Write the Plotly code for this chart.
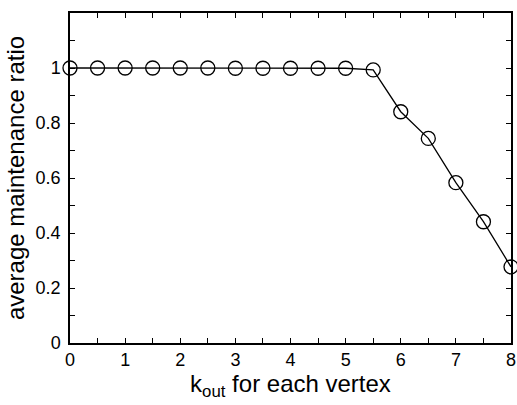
import plotly.graph_objects as go

k_out = [0, 0.5, 1, 1.5, 2, 2.5, 3, 3.5, 4, 4.5, 5, 5.5, 6, 6.5, 7, 7.5, 8]
ratio = [1.0, 1.0, 1.0, 1.0, 1.0, 1.0, 0.999, 0.999, 0.999, 0.999, 0.999, 0.993, 0.841, 0.744, 0.583, 0.441, 0.277]

x_tickvals = [0, 1, 2, 3, 4, 5, 6, 7, 8]
y_tickvals = [0, 0.2, 0.4, 0.6, 0.8, 1.0]
y_ticktext = ["0", "0.2", "0.4", "0.6", "0.8", "1"]

fig = go.Figure()
fig.add_trace(go.Scatter(
    x=k_out, y=ratio, mode="lines+markers",
    line=dict(color="black", width=1.3),
    marker=dict(symbol="circle-open", size=14, color="black", line=dict(width=1.3)),
    cliponaxis=False, showlegend=False,
))

axis_common = dict(
    showline=True, linecolor="black", linewidth=1.5, mirror="ticks",
    ticks="inside", ticklen=5, tickwidth=1, tickcolor="black",
    showgrid=False, zeroline=False, automargin=False,
    tickfont=dict(size=18, color="black"),
)

fig.update_layout(
    width=517, height=405,
    margin=dict(l=70, r=6, t=13, b=62),
    paper_bgcolor="white", plot_bgcolor="white",
    font=dict(family="Liberation Sans, Arial, sans-serif", color="black"),
    xaxis=dict(range=[0, 8], tickvals=x_tickvals,
               minor=dict(ticks="inside", ticklen=5, tickwidth=1, tickcolor="black", dtick=0.5, showgrid=False),
               title=dict(text="k<sub>out</sub> for each vertex", font=dict(size=24), standoff=0),
               **axis_common),
    yaxis=dict(range=[0, 1.2], tickvals=y_tickvals, ticktext=y_ticktext,
               minor=dict(ticks="inside", ticklen=5, tickwidth=1, tickcolor="black", dtick=0.1, showgrid=False),
               ticklabelstandoff=4,
               title=dict(text="average maintenance ratio", font=dict(size=24), standoff=4),
               **axis_common),
)

fig.write_html("out.html", config={"displayModeBar": False},
               post_script="document.body.style.margin='0';")
